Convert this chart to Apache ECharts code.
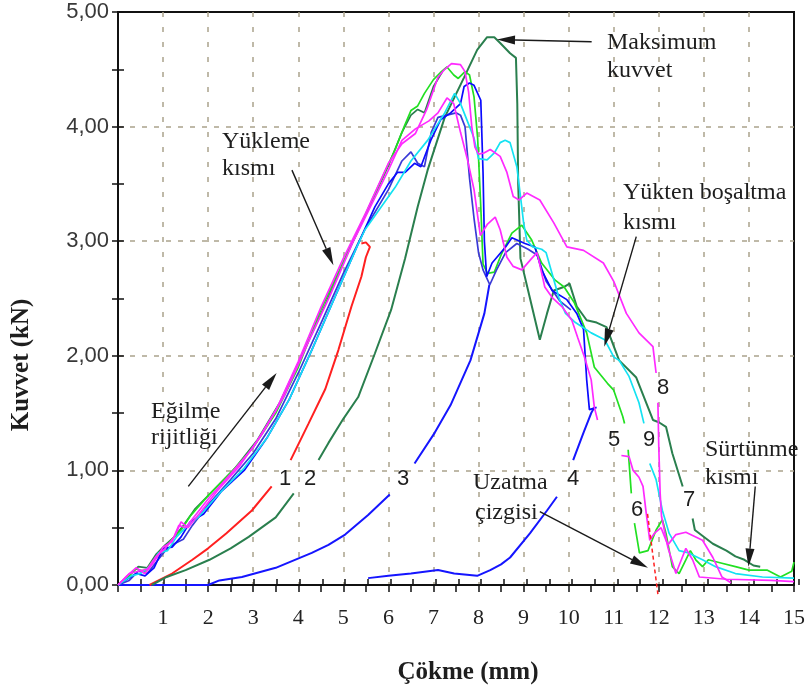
<!DOCTYPE html>
<html>
<head>
<meta charset="utf-8">
<script src="https://cdn.jsdelivr.net/npm/echarts@6/dist/echarts.min.js"></script>
<style>
  html, body { margin: 0; padding: 0; background: #fff; }
  #chart { width: 808px; height: 693px; }
</style>
</head>
<body>
<div id="chart"></div>
<script>
// eğriler: [çökme (mm), kuvvet (kN)] ; null = çizgide boşluk
const redCurve1 = [[0.7,0],[1.2,0.1],[1.65,0.22],[2.0,0.32],[2.4,0.45],[2.97,0.65],[3.41,0.86],null,[3.83,1.09],[4.23,1.41],[4.6,1.71],[4.89,2.05],[5.18,2.43],[5.4,2.69],[5.5,2.86],[5.59,2.95],[5.5,2.99],[5.4,2.98]]
const greenCurve2 = [[0.75,0],[1.08,0.07],[1.5,0.13],[2.03,0.22],[2.5,0.32],[2.9,0.42],[3.5,0.59],[3.9,0.8],null,[4.45,1.09],[4.67,1.24],[5.0,1.45],[5.33,1.64],[5.7,2.02],[6.06,2.4],[6.37,2.85],[6.65,3.3],[6.87,3.62],[7.25,4.08],[7.68,4.43],[7.97,4.67],[8.19,4.78],[8.35,4.78],[8.48,4.73],[8.7,4.64],[8.83,4.6],[8.86,4.2],[8.88,3.5],[8.93,2.85],[9.1,2.57],[9.36,2.14],[9.52,2.37],[9.67,2.57],[9.89,2.6],[10.02,2.63],[10.18,2.43],[10.4,2.31],[10.62,2.29],[10.84,2.25],[11.12,1.96],[11.5,1.81],[11.87,1.44],[12.0,1.42],[12.16,1.38],[12.3,1.15],[12.53,0.86],null,[12.75,0.58],[12.8,0.48],[13.2,0.36],[13.5,0.3],[13.7,0.25],[13.9,0.22],[14.1,0.17],[14.25,0.16]]
const blueCurve3 = [[0,0],[1.0,0],[2.0,0],[2.25,0.04],[2.75,0.07],[3.5,0.15],[4.3,0.28],[4.67,0.35],[5.04,0.44],[5.55,0.61],[6.03,0.79],null,[6.58,1.06],[7.03,1.33],[7.38,1.57],[7.82,1.96],[8.13,2.37],[8.24,2.62]]
const blueCurve4 = [[5.55,0.06],[6.0,0.08],[6.5,0.1],[7.1,0.13],[7.46,0.1],[7.97,0.08],[8.26,0.13],[8.5,0.18],[8.7,0.24],[9.14,0.45],[9.52,0.65],[9.74,0.77],null,[10.1,1.09],[10.33,1.33],[10.5,1.5],[10.57,1.55]]
const greenLoad = [[0,0],[0.2,0.07],[0.45,0.16],[0.65,0.15],[0.85,0.27],[1.05,0.35],[1.25,0.42],[1.45,0.52],[1.7,0.66],[2.1,0.82],[2.6,1.02],[3.1,1.27],[3.6,1.6],[4.1,2.02],[4.6,2.45],[5.1,2.9],[5.6,3.32],[6.0,3.66],[6.3,3.95],[6.5,4.1],[6.65,4.15],[6.8,4.12],[7.0,4.35],[7.2,4.48]]
const limeCurve = [[0,0],[0.2,0.06],[0.4,0.14],[0.6,0.12],[0.8,0.22],[1.0,0.3],[1.2,0.4],[1.4,0.48],[1.6,0.6],[2.0,0.78],[2.5,0.98],[3.0,1.2],[3.5,1.5],[4.0,1.9],[4.5,2.4],[5.0,2.82],[5.5,3.24],[5.8,3.5],[6.15,3.8],[6.35,4.0],[6.5,4.14],[6.65,4.18],[6.8,4.29],[7.0,4.41],[7.15,4.47],[7.3,4.52],[7.45,4.45],[7.55,4.42],[7.7,4.48],[7.8,4.45],[7.9,4.26],[7.98,3.9],[8.05,3.3],[8.1,2.8],[8.2,2.72],[8.35,2.73],[8.5,2.88],[8.74,3.07],[8.96,3.14],[9.18,3.01],[9.4,2.81],[9.7,2.66],[9.9,2.6],[10.13,2.46],[10.4,2.2],[10.57,1.9],[10.86,1.76],[11.0,1.7],[11.2,1.47],[11.24,1.41],null,[11.32,1.18],[11.39,0.8],null,[11.46,0.54],[11.57,0.28],[11.76,0.3],[11.94,0.48],[12.08,0.57],[12.16,0.45],[12.3,0.16],[12.45,0.1],[12.6,0.22],[12.7,0.3],[12.82,0.22],[12.97,0.16],[13.1,0.22],[13.4,0.19],[13.7,0.16],[14.0,0.13],[14.4,0.13],[14.7,0.07],[14.95,0.12],[15,0.2]]
const blueDark = [[0,0],[0.25,0.04],[0.45,0.12],[0.65,0.1],[0.85,0.2],[1.05,0.3],[1.25,0.36],[1.45,0.4],[1.65,0.52],[2.0,0.7],[2.5,0.92],[3.0,1.15],[3.5,1.45],[4.0,1.85],[4.5,2.28],[5.0,2.72],[5.5,3.12],[6.0,3.45],[6.3,3.7],[6.5,3.78],[6.65,3.68],[6.8,3.65],[6.95,3.95],[7.1,4.08],[7.3,4.1],[7.5,4.12],[7.6,4.1],[7.7,4.0],[7.8,3.55],[7.9,3.2],[8.0,2.9],[8.1,2.75],[8.25,2.62],[8.4,2.75],[8.6,2.9],[8.85,2.98],[9.1,2.93],[9.3,2.88],[9.5,2.65],[9.8,2.48],[10.05,2.4]]
const blueCurve = [[0,0],[0.2,0.05],[0.4,0.1],[0.6,0.08],[0.8,0.15],[1.0,0.32],[1.2,0.33],[1.4,0.42],[1.6,0.55],[1.9,0.62],[2.3,0.82],[2.8,1.0],[3.3,1.28],[3.8,1.62],[4.3,2.05],[4.8,2.5],[5.3,2.95],[5.7,3.3],[6.0,3.5],[6.2,3.6],[6.37,3.6],[6.58,3.68],[6.72,3.65],[6.94,3.88],[7.16,4.06],[7.38,4.12],[7.6,4.2],[7.68,4.35],[7.8,4.38],[7.9,4.36],[8.05,4.23],[8.1,3.6],[8.13,3.0],[8.18,2.69],[8.3,2.81],[8.6,2.95],[8.74,3.03],[9.03,2.98],[9.25,2.95],[9.4,2.75],[9.63,2.57],[9.96,2.49],[10.18,2.37],[10.33,2.23],[10.4,1.79],[10.46,1.53],[10.62,1.55]]
const cyanCurve = [[0,0],[0.3,0.08],[0.5,0.1],[0.7,0.16],[0.9,0.28],[1.1,0.3],[1.3,0.42],[1.5,0.5],[1.8,0.6],[2.3,0.82],[2.8,1.02],[3.3,1.28],[3.8,1.62],[4.3,2.05],[4.8,2.5],[5.3,2.95],[5.48,3.1],[6.15,3.47],[6.5,3.7],[6.87,3.88],[7.25,4.12],[7.47,4.29],[7.6,4.2],[7.75,4.05],[7.9,3.9],[8.0,3.72],[8.19,3.71],[8.35,3.77],[8.48,3.86],[8.59,3.88],[8.7,3.86],[8.85,3.65],[8.94,3.36],[9.0,3.16],[9.07,3.01],[9.2,2.95],[9.4,2.93],[9.5,2.9],[9.63,2.72],[9.78,2.51],[9.93,2.37],[10.15,2.29],[10.5,2.2],[10.8,2.14],[11.0,1.99],[11.12,1.96],[11.34,1.82],[11.56,1.59],[11.67,1.41],null,[11.8,1.06],[11.94,0.92],[12.08,0.65],[12.23,0.45],[12.45,0.3],[12.66,0.28],[12.97,0.22],[13.26,0.16],[13.7,0.1],[14.3,0.07],[15,0.06]]
const magentaLow = [[0,0],[0.25,0.1],[0.45,0.12],[0.65,0.14],[0.85,0.25],[1.05,0.32],[1.25,0.42],[1.4,0.55],[1.55,0.5],[1.8,0.62],[2.2,0.82],[2.7,1.04],[3.2,1.32],[3.7,1.66],[4.2,2.1],[4.7,2.52],[5.2,2.98],[5.6,3.3],[6.0,3.62],[6.3,3.88],[6.6,3.98],[6.9,4.05],[7.1,4.12],[7.3,4.25],[7.45,4.2],[7.6,3.95],[7.75,3.72],[7.9,3.45],[8.04,3.05],[8.2,3.15],[8.37,3.21],[8.48,3.1],[8.63,2.86],[8.77,2.78],[8.96,2.75],[9.18,2.85],[9.3,2.9],[9.47,2.6],[9.63,2.51],[9.85,2.43],[10.07,2.31],[10.2,2.16],[10.35,1.99],[10.5,1.79],[10.57,1.55],[10.64,1.44],null,[11.17,1.13],[11.34,1.12],[11.43,1.0],[11.56,0.94],[11.65,0.86],[11.72,0.63],[11.8,0.39],[11.9,0.45],[12.05,0.5],[12.2,0.35],[12.38,0.44],[12.6,0.46],[12.97,0.39],[13.2,0.24],[13.4,0.07],[13.6,0.02]]
const magentaHigh = [[0,0],[0.2,0.08],[0.4,0.15],[0.6,0.1],[0.8,0.2],[1.0,0.33],[1.2,0.38],[1.35,0.52],[1.5,0.5],[1.7,0.6],[2.0,0.75],[2.5,0.97],[3.0,1.2],[3.5,1.52],[4.0,1.95],[4.5,2.42],[5.0,2.85],[5.5,3.25],[6.0,3.68],[6.3,3.85],[6.6,3.94],[6.85,4.15],[7.1,4.43],[7.25,4.5],[7.4,4.55],[7.6,4.54],[7.7,4.48],[7.78,4.3],[7.85,4.0],[7.92,3.82],[8.0,3.76],[8.12,3.77],[8.26,3.8],[8.48,3.74],[8.63,3.6],[8.77,3.39],[8.9,3.36],[9.07,3.42],[9.36,3.36],[9.67,3.16],[9.96,2.95],[10.33,2.92],[10.77,2.81],[11.0,2.65],[11.28,2.37],[11.56,2.2],[11.87,2.08],[11.94,1.85],null,[11.98,1.59],[12.0,1.2],[12.03,0.8],[12.06,0.6],[12.2,0.33],[12.38,0.1],[12.5,0.22],[12.6,0.32],[12.75,0.22],[12.9,0.07],[13.5,0.05],[14.5,0.04],[15,0.03]]
const extensionLine = [[11.75,0.62],[11.98,-0.08]]

// eksen etiketleri
const xLabels = ['', '1', '2', '3', '4', '5', '6', '7', '8', '9', '10', '11', '12', '13', '14', '15']
const yLabels = ['0,00', '1,00', '2,00', '3,00', '4,00', '5,00']

// açıklamalar: metin satırları [metin, x piksel, y piksel]
const notes = [
  ['Maksimum', 607, 43], ['kuvvet', 607, 71],
  ['Yükleme', 222, 142], ['kısmı', 222, 169],
  ['Eğilme', 151, 412], ['rijitliği', 151, 438],
  ['Yükten boşaltma', 623, 193], ['kısmı', 623, 223],
  ['Sürtünme', 705, 450], ['kısmı', 705, 478],
  ['Uzatma', 473, 483], ['çizgisi', 475, 513]
]
const curveNumbers = [['1', 285, 479], ['2', 310, 479], ['3', 403, 479], ['4', 573, 479], ['5', 614, 440], ['9', 649, 440], ['8', 663, 388], ['6', 637, 510], ['7', 689, 500]]
// oklar: [kuyruk, uç] veri koordinatında
const arrows = [
  [[10.51, 4.74], [8.41, 4.76]],
  [[3.86, 3.62], [4.78, 2.79]],
  [[1.56, 0.86], [3.52, 1.85]],
  [[11.5, 3.04], [10.79, 2.08]],
  [[14.14, 0.86], [13.99, 0.16]],
  [[9.36, 0.64], [11.76, 0.15]]
]

const chart = echarts.init(document.getElementById('chart'))
const gap = pts => pts.map(p => p || ['-', '-'])
const mkLine = (name, pts, color, width) => ({
  name, type: 'line', data: gap(pts), showSymbol: false, symbol: 'none',
  connectNulls: false, lineStyle: { color, width: width || 1.7 }, z: 3
})
const grid = { left: 118, top: 12, width: 681, height: 573 }
const tickStyle = { color: '#111', width: 1.5 }

chart.setOption({
  animation: false,
  grid: [
    { ...grid, show: true, borderColor: '#111', borderWidth: 2, backgroundColor: 'transparent' },
    { ...grid }
  ],
  xAxis: [
    {
      type: 'value', gridIndex: 0, min: 0, max: 15, interval: 1,
      axisLine: { onZero: false, lineStyle: { color: '#111', width: 2 } },
      axisTick: { length: 7, lineStyle: tickStyle },
      minorTick: { show: true, splitNumber: 2, length: 7, lineStyle: tickStyle },
      splitLine: { show: true, showMinLine: false, showMaxLine: false, lineStyle: { color: '#aaa28c', width: 1.5, type: [5, 10] } },
      axisLabel: { margin: 22, fontFamily: 'Liberation Serif', fontSize: 22, color: '#222', formatter: v => xLabels[v] }
    },
    {
      type: 'value', gridIndex: 1, min: 0, max: 15, interval: 1,
      axisLine: { show: false }, axisLabel: { show: false }, splitLine: { show: false },
      axisTick: { inside: true, length: 6, lineStyle: tickStyle },
      minorTick: { show: true, splitNumber: 2, length: 6, lineStyle: tickStyle }
    }
  ],
  yAxis: [
    {
      type: 'value', gridIndex: 0, min: 0, max: 5, interval: 1,
      axisLine: { show: true, onZero: false, lineStyle: { color: '#111', width: 2 } },
      axisTick: { show: true, length: 6, lineStyle: tickStyle },
      minorTick: { show: true, splitNumber: 2, length: 6, lineStyle: tickStyle },
      splitLine: { show: true, showMinLine: false, showMaxLine: false, lineStyle: { color: '#aaa28c', width: 1.5, type: [5, 7] } },
      axisLabel: { margin: 9, fontFamily: 'Liberation Sans', fontSize: 22, color: '#383838', formatter: v => yLabels[v] }
    },
    {
      type: 'value', gridIndex: 1, min: 0, max: 5, interval: 1,
      axisLine: { show: false }, axisLabel: { show: false }, splitLine: { show: false },
      axisTick: { show: true, inside: true, length: 6, lineStyle: tickStyle },
      minorTick: { show: true, splitNumber: 2, length: 6, lineStyle: tickStyle }
    }
  ],
  series: [
    mkLine('3', blueCurve3, '#1515ff', 2),
    mkLine('4', blueCurve4, '#1515ff', 2),
    mkLine('1', redCurve1, '#ff2020', 2),
    mkLine('g', greenLoad, '#2a7f4e'),
    mkLine('2', greenCurve2, '#2a7f4e', 2),
    mkLine('lime', limeCurve, '#22e022'),
    mkLine('bd', blueDark, '#3a3ad6'),
    mkLine('b', blueCurve, '#0a0aff'),
    mkLine('c', cyanCurve, '#14e2f2'),
    mkLine('ml', magentaLow, '#ff2aff'),
    mkLine('mh', magentaHigh, '#ff2aff'),
    { type: 'line', data: extensionLine, showSymbol: false, clip: false, lineStyle: { color: '#ff2020', width: 1.5, type: [4, 3] }, z: 4 }
  ]
})

// metinler ve oklar
const graphics = []
const textEl = (text, x, y, font, align, extra) => Object.assign({
  type: 'text', z: 100, x, y,
  style: { text, font, fill: '#1e1e1e', textAlign: align, textVerticalAlign: 'middle', align, verticalAlign: 'middle' }
}, extra || {})

notes.forEach(([t, x, y]) => graphics.push(textEl(t, x, y, '24px "Liberation Serif"', 'left')))
curveNumbers.forEach(([t, x, y]) => graphics.push(textEl(t, x, y, '22px "Liberation Sans"', 'center')))
graphics.push(textEl('Çökme (mm)', 468, 673, 'bold 25px "Liberation Serif"', 'center'))
graphics.push(textEl('Kuvvet (kN)', 22, 365, 'bold 25px "Liberation Serif"', 'center', { rotation: Math.PI / 2 }))

arrows.forEach(([tail, tip]) => {
  const a = chart.convertToPixel({ gridIndex: 0 }, tail)
  const b = chart.convertToPixel({ gridIndex: 0 }, tip)
  const dx = b[0] - a[0], dy = b[1] - a[1]
  const len = Math.hypot(dx, dy), ux = dx / len, uy = dy / len
  const hl = 18, hw = 4.5
  const bx = b[0] - ux * hl, by = b[1] - uy * hl
  graphics.push({ type: 'line', z: 100, shape: { x1: a[0], y1: a[1], x2: bx, y2: by }, style: { stroke: '#1a1a1a', lineWidth: 1.4 } })
  graphics.push({ type: 'polygon', z: 100, shape: { points: [[b[0], b[1]], [bx - uy * hw, by + ux * hw], [bx + uy * hw, by - ux * hw]] }, style: { fill: '#1a1a1a' } })
})

chart.setOption({ graphic: graphics })
</script>
</body>
</html>
